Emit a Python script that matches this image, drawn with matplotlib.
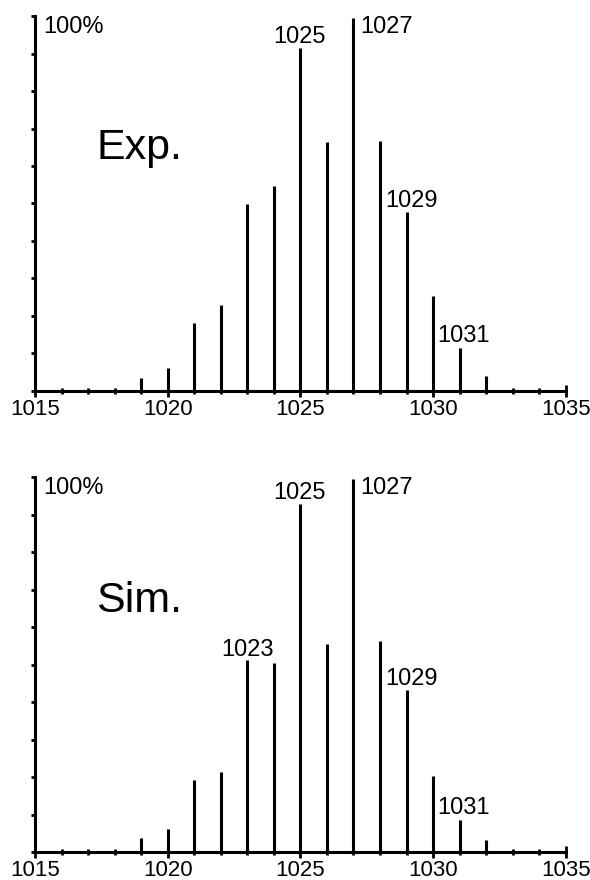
import numpy as np
import matplotlib.pyplot as plt

plt.rcParams['font.family'] = ['Liberation Sans', 'DejaVu Sans']

# m/z values and relative intensities (%)
mz = [1017, 1018, 1019, 1020, 1021, 1022, 1023, 1024, 1025, 1026,
      1027, 1028, 1029, 1030, 1031, 1032, 1033]
exp_int = [0.6, 0.6, 3.5, 6.2, 18.1, 22.9, 49.9, 54.7, 91.5, 66.4,
           99.5, 66.7, 47.7, 25.3, 11.5, 4.0, 0.6]
sim_int = [0.0, 0.0, 3.8, 6.2, 19.3, 21.3, 51.1, 50.5, 92.7, 55.6,
           99.6, 56.3, 43.3, 20.2, 8.6, 3.1, 0.6]

exp_labels = [1025, 1027, 1029, 1031]
sim_labels = [1023, 1025, 1027, 1029, 1031]

# label placement: (x offset px, y offset px, ha)
label_pos = {
    1023: (0, 4, 'center'),
    1025: (-1, 5, 'center'),
    1027: (7, -15, 'left'),
    1029: (5, 5, 'center'),
    1031: (4, 6, 'center'),
}

fig = plt.figure(figsize=(5.9, 8.8), dpi=100)
ax1 = fig.add_axes([0.0593, 0.5557, 0.8997, 0.4261])
ax2 = fig.add_axes([0.0593, 0.0318, 0.8997, 0.4261])


def draw_panel(ax, inten, labels, name, name_y):
    ax.vlines(mz, 0, inten, color='black', linewidth=2.2)
    ax.set_xlim(1015, 1035)
    ax.set_ylim(0, 100)
    for s in ['top', 'right']:
        ax.spines[s].set_visible(False)
    for s in ['left', 'bottom']:
        ax.spines[s].set_linewidth(2.2)
    ax.set_xticks(np.arange(1015, 1036, 5))
    ax.set_xticks(np.arange(1015, 1036, 1), minor=True)
    ax.set_yticks(np.arange(0, 101, 10))
    ax.set_yticklabels([])
    ax.tick_params(axis='x', which='major', direction='inout', length=9,
                   width=2, labelsize=16, pad=1)
    ax.tick_params(axis='x', which='minor', direction='inout', length=4,
                   width=2)
    ax.tick_params(axis='y', which='major', direction='out', length=3,
                   width=2)
    ax.text(1015.3, 100, '100%', fontsize=17, va='top', ha='left')
    ax.text(1017.3, name_y, name, fontsize=31, va='baseline', ha='left')
    for m in labels:
        y = inten[mz.index(m)]
        dx, dy, ha = label_pos[m]
        ax.annotate(str(m), (m, y), xytext=(dx, dy),
                    textcoords='offset pixels', fontsize=17,
                    ha=ha, va='baseline')


draw_panel(ax1, exp_int, exp_labels, 'Exp.', 62)
draw_panel(ax2, sim_int, sim_labels, 'Sim.', 64)

fig.savefig('out.png', dpi=100)
